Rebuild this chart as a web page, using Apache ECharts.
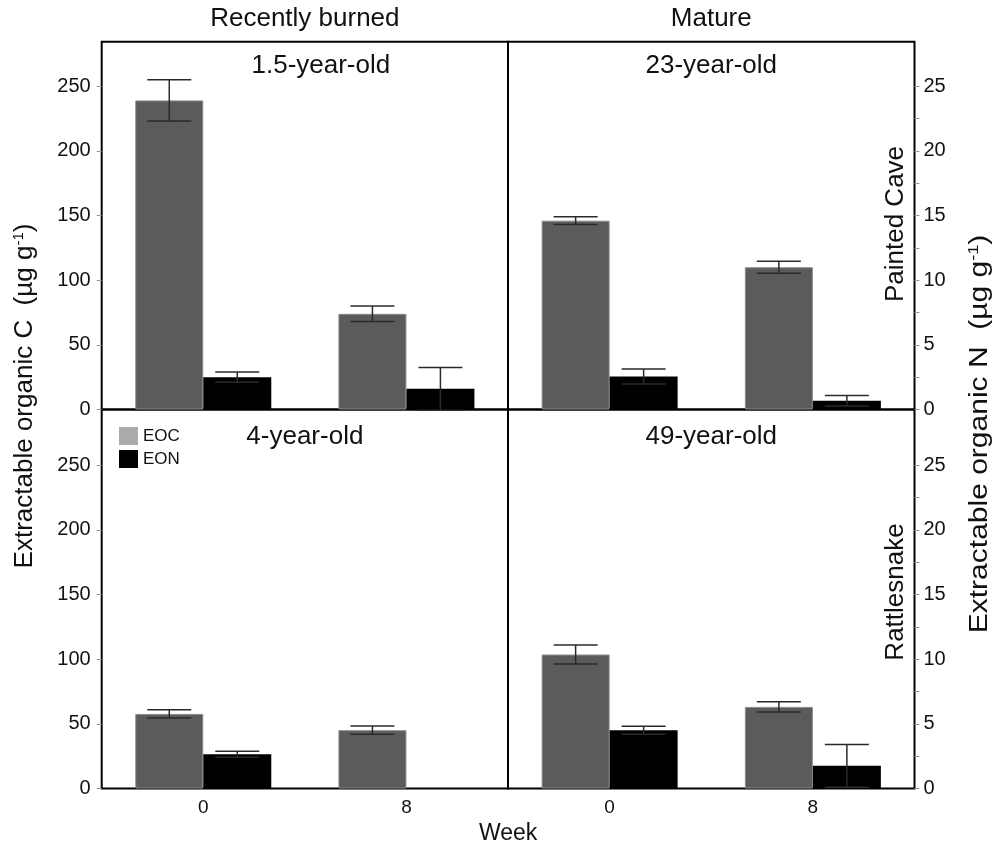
<!DOCTYPE html>
<html>
<head>
<meta charset="utf-8">
<script src="https://cdn.jsdelivr.net/npm/echarts@6/dist/echarts.min.js"></script>
<style>html,body{margin:0;padding:0;background:#fff;}#chart{width:995px;height:849px;}</style>
</head>
<body>
<div id="chart"></div>
<script>
// ---- data ----
const weeks = ['0', '8'];
const panelTitles = ['1.5-year-old', '23-year-old', '4-year-old', '49-year-old'];
const columnTitles = ['Recently burned', 'Mature'];
const rowTitles = ['Painted Cave', 'Rattlesnake'];
const leftTicks = [0, 50, 100, 150, 200, 250];
const rightTicks = [0, 5, 10, 15, 20, 25];
const rightMinorTicks = [0, 2.5, 5, 7.5, 10, 12.5, 15, 17.5, 20, 22.5, 25];

// EOC (µg g-1) mean and error, EON (µg g-1) mean and error, per week [0, 8]
const eoc_1_5 = [239, 74];     const eocErr_1_5 = [16, 6];
const eon_1_5 = [2.5, 1.6];    const eonErr_1_5 = [0.4, 1.65];
const eoc_23 = [146, 110];     const eocErr_23 = [3, 4.7];
const eon_23 = [2.55, 0.68];   const eonErr_23 = [0.58, 0.4];
const eoc_4 = [57.7, 45.1];    const eocErr_4 = [3.2, 3.2];
const eon_4 = [2.65, null];    const eonErr_4 = [0.23, null];
const eoc_49 = [103.6, 63.1];  const eocErr_49 = [7.4, 3.9];
const eon_49 = [4.5, 1.75];    const eonErr_49 = [0.31, 1.65];

const eocSets = [eoc_1_5, eoc_23, eoc_4, eoc_49];
const eocErrSets = [eocErr_1_5, eocErr_23, eocErr_4, eocErr_49];
const eonSets = [eon_1_5, eon_23, eon_4, eon_49];
const eonErrSets = [eonErr_1_5, eonErr_23, eonErr_4, eonErr_49];

// ---- layout / style ----
const FONT = "'Liberation Sans', Arial, Helvetica, sans-serif";
const X0 = 101.7, XM = 508, X1 = 914.5;
const Y0 = 41.7, YM = 409.5, Y1 = 788.5;
const PX_PER_UNIT = 323.3 / 250;
const topMaxC = (YM - Y0) / PX_PER_UNIT;
const botMaxC = (Y1 - YM) / PX_PER_UNIT;
const BAR_W = 68;
const CAP = 22;

const grids = [
  {left: X0, top: Y0, width: XM - X0, height: YM - Y0},
  {left: XM, top: Y0, width: X1 - XM, height: YM - Y0},
  {left: X0, top: YM, width: XM - X0, height: Y1 - YM},
  {left: XM, top: YM, width: X1 - XM, height: Y1 - YM}
].map(g => Object.assign(g, {show: true, borderColor: '#000', borderWidth: 2, backgroundColor: 'transparent', containLabel: false}));

const xAxes = [0, 1, 2, 3].map(i => ({
  type: 'category', gridIndex: i, data: weeks,
  axisLine: {show: false}, axisTick: {show: false},
  axisLabel: {show: i >= 2, fontSize: 19, color: '#111', fontFamily: FONT, margin: 10},
  splitLine: {show: false}
}));

const yAxes = [];
[0, 1, 2, 3].forEach(i => {
  const maxC = i < 2 ? topMaxC : botMaxC;
  const isLeft = (i % 2 === 0);
  // C axis
  yAxes.push({
    type: 'value', gridIndex: i, min: 0, max: maxC, position: 'left',
    show: true,
    axisLine: {show: false},
    axisTick: {show: isLeft, length: 5, lineStyle: {color: '#999', width: 1}, customValues: leftTicks},
    axisLabel: {show: isLeft, fontSize: 20, color: '#111', fontFamily: FONT, margin: 11, customValues: leftTicks},
    splitLine: {show: false}
  });
  // N axis
  yAxes.push({
    type: 'value', gridIndex: i, min: 0, max: maxC / 10, position: 'right',
    show: true,
    axisLine: {show: false},
    axisTick: {show: !isLeft, length: 5, lineStyle: {color: '#999', width: 1}, customValues: rightMinorTicks},
    axisLabel: {show: !isLeft, fontSize: 20, color: '#111', fontFamily: FONT, margin: 9, customValues: rightTicks},
    splitLine: {show: false}
  });
});

function errSeries(name, gi, yIdx, means, errs, side) {
  const data = [];
  means.forEach((m, k) => {
    if (m != null && errs[k] != null) data.push([k, m - errs[k], m + errs[k]]);
  });
  return {
    type: 'custom', name: name + ' error', xAxisIndex: gi, yAxisIndex: yIdx, z: 5, silent: true,
    encode: {x: 0, y: [1, 2]},
    renderItem: function (params, api) {
      const lo = api.coord([api.value(0), api.value(1)]);
      const hi = api.coord([api.value(0), api.value(2)]);
      const x = lo[0] + side * BAR_W / 2;
      const st = {stroke: '#2a2a2a', lineWidth: 1.5};
      return {type: 'group', children: [
        {type: 'line', shape: {x1: x, y1: lo[1], x2: x, y2: hi[1]}, style: st},
        {type: 'line', shape: {x1: x - CAP, y1: lo[1], x2: x + CAP, y2: lo[1]}, style: st},
        {type: 'line', shape: {x1: x - CAP, y1: hi[1], x2: x + CAP, y2: hi[1]}, style: st}
      ]};
    },
    data: data
  };
}

const series = [];
[0, 1, 2, 3].forEach(i => {
  series.push({
    type: 'bar', name: 'EOC', xAxisIndex: i, yAxisIndex: 2 * i, barWidth: BAR_W, barGap: '0%',
    itemStyle: {color: '#5b5b5b', borderColor: '#8c8c8c', borderWidth: 1},
    data: eocSets[i], silent: true
  });
  series.push({
    type: 'bar', name: 'EON', xAxisIndex: i, yAxisIndex: 2 * i + 1, barWidth: BAR_W, barGap: '0%',
    itemStyle: {color: '#000'},
    data: eonSets[i], silent: true
  });
  series.push(errSeries('EOC', i, 2 * i, eocSets[i], eocErrSets[i], -1));
  series.push(errSeries('EON', i, 2 * i + 1, eonSets[i], eonErrSets[i], 1));
});

const txt = (x, y, text, size, extra) => Object.assign({
  type: 'text', x: x, y: y, z: 10,
  style: Object.assign({text: text, fontSize: size, fontFamily: FONT, fill: '#111', align: 'center', verticalAlign: 'middle'}, (extra && extra.style) || {})
}, (extra && extra.el) || {});

const graphics = [
  txt((X0 + XM) / 2, 19, columnTitles[0], 26),
  txt((XM + X1) / 2, 19, columnTitles[1], 26),
  txt((X0 + XM) / 2 + 16, 66, panelTitles[0], 26),
  txt((XM + X1) / 2, 66, panelTitles[1], 26),
  txt((X0 + XM) / 2, 437, panelTitles[2], 26),
  txt((XM + X1) / 2, 437, panelTitles[3], 26),
  txt(896, 224, rowTitles[0], 26, {el: {rotation: Math.PI / 2}}),
  txt(896, 592, rowTitles[1], 26, {el: {rotation: Math.PI / 2}}),
  txt((X0 + X1) / 2, 834, 'Week', 23),
  {
    type: 'text', x: 25, y: 396, rotation: Math.PI / 2, z: 10,
    style: {
      text: 'Extractable organic C  (µg g{sup|-1})', fontSize: 26, fontFamily: FONT, fill: '#111',
      align: 'center', verticalAlign: 'middle',
      rich: {sup: {fontSize: 15, fontFamily: FONT, fill: '#111', verticalAlign: 'top', padding: [0, 0, 12, 0]}}
    }
  },
  {
    type: 'text', x: 980, y: 434, rotation: Math.PI / 2, scaleX: 1.2, z: 10,
    style: {
      text: 'Extractable organic N  (µg g{sup|-1})', fontSize: 25, fontFamily: FONT, fill: '#111',
      align: 'center', verticalAlign: 'middle',
      rich: {sup: {fontSize: 15, fontFamily: FONT, fill: '#111', verticalAlign: 'top', padding: [0, 0, 12, 0]}}
    }
  }
];

const chart = echarts.init(document.getElementById('chart'), null, {renderer: 'canvas'});
chart.setOption({
  backgroundColor: '#fff',
  animation: false,
  textStyle: {fontFamily: FONT},
  legend: {
    orient: 'vertical', left: 114, top: 422, icon: 'rect', itemWidth: 19, itemHeight: 18, itemGap: 5,
    textStyle: {fontSize: 17, color: '#111', fontFamily: FONT},
    selectedMode: false,
    data: [
      {name: 'EOC', itemStyle: {color: '#aaaaaa', borderWidth: 0}},
      {name: 'EON', itemStyle: {color: '#000'}}
    ]
  },
  grid: grids,
  xAxis: xAxes,
  yAxis: yAxes,
  series: series,
  graphic: graphics
});
</script>
</body>
</html>
